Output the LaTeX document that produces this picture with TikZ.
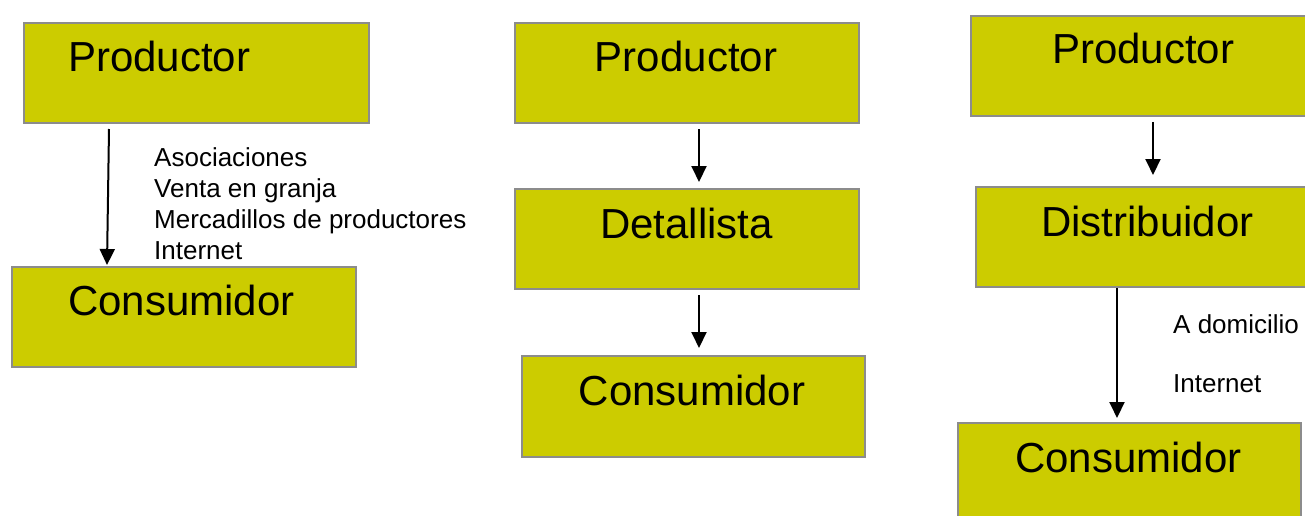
\documentclass[tikz,border=0pt]{standalone}
\usepackage{fontspec}
\setmainfont{Liberation Sans}
\usetikzlibrary{arrows.meta,calc}
\definecolor{boxfill}{HTML}{CCCC00}
\definecolor{boxline}{HTML}{8C8C8C}
\begin{document}
\begin{tikzpicture}[x=1pt,y=1pt,
  box/.style={draw=boxline,line width=2pt,fill=boxfill,anchor=north west,inner sep=0pt},
  big/.style={font=\fontsize{42}{50}\selectfont,inner sep=0pt},
  small/.style={font=\fontsize{26}{31}\selectfont,inner sep=0pt,anchor=base west},
  arr/.style={line width=2pt,-{Triangle[width=15pt,length=16pt]}}]
\useasboundingbox (0,0) rectangle (1305,-516);
\clip (0,0) rectangle (1305,-516);
% column 1
\node[box,minimum width=345,minimum height=100] (p1) at (23,-22) {};
\node[box,minimum width=344,minimum height=100] (c1) at (11,-266) {};
\node[big,anchor=base west] (tp1) at (68,-72) {Productor};
\node[big,anchor=base west] (tc1) at (68,-315) {Consumidor};
\draw[arr] ($(p1.south west)+(86,-5)$) -- ($(c1.north west)+(96,1)$);
\node[small] (l1a) at (154,-166) {Asociaciones};
\node[small] (l1b) at (154,-197) {Venta en granja};
\node[small] (l1c) at (154,-228) {Mercadillos de productores};
\node[small] (l1d) at (154,-259) {Internet};
% column 2
\node[box,minimum width=344,minimum height=100] (p2) at (514,-22) {};
\node[box,minimum width=344,minimum height=100] (d2) at (514,-188) {};
\node[box,minimum width=343,minimum height=101] (c2) at (521,-355) {};
\node[big,anchor=base] (tp2) at (686,-72) {Productor};
\node[big,anchor=base] (td2) at (686.5,-238) {Detallista};
\node[big,anchor=base] (tc2) at (692,-405) {Consumidor};
\draw[arr] ($(p2.south west)+(185,-5)$) -- ($(d2.north west)+(185,6)$);
\draw[arr] ($(d2.south west)+(185,-5)$) -- ($(c2.north west)+(178,7)$);
% column 3
\node[box,minimum width=360,minimum height=100] (p3) at (970,-15) {};
\node[box,minimum width=355,minimum height=100] (d3) at (975,-186) {};
\node[box,minimum width=343,minimum height=110] (c3) at (957,-422) {};
\node[big,anchor=base west] (tp3) at (1052,-64) {Productor};
\node[big,anchor=base west] (td3) at (1041,-236) {Distribuidor};
\node[big,anchor=base west] (tc3) at (1015,-472) {Consumidor};
\draw[arr] ($(p3.south west)+(183,-5)$) -- ($(d3.north west)+(178,11)$);
\draw[arr] ($(d3.south west)+(142,0)$) -- ($(c3.north west)+(160,4)$);
\node[small] (l3a) at (1173,-333) {A domicilio};
\node[small] (l3b) at (1173,-392) {Internet};
\end{tikzpicture}
\end{document}
